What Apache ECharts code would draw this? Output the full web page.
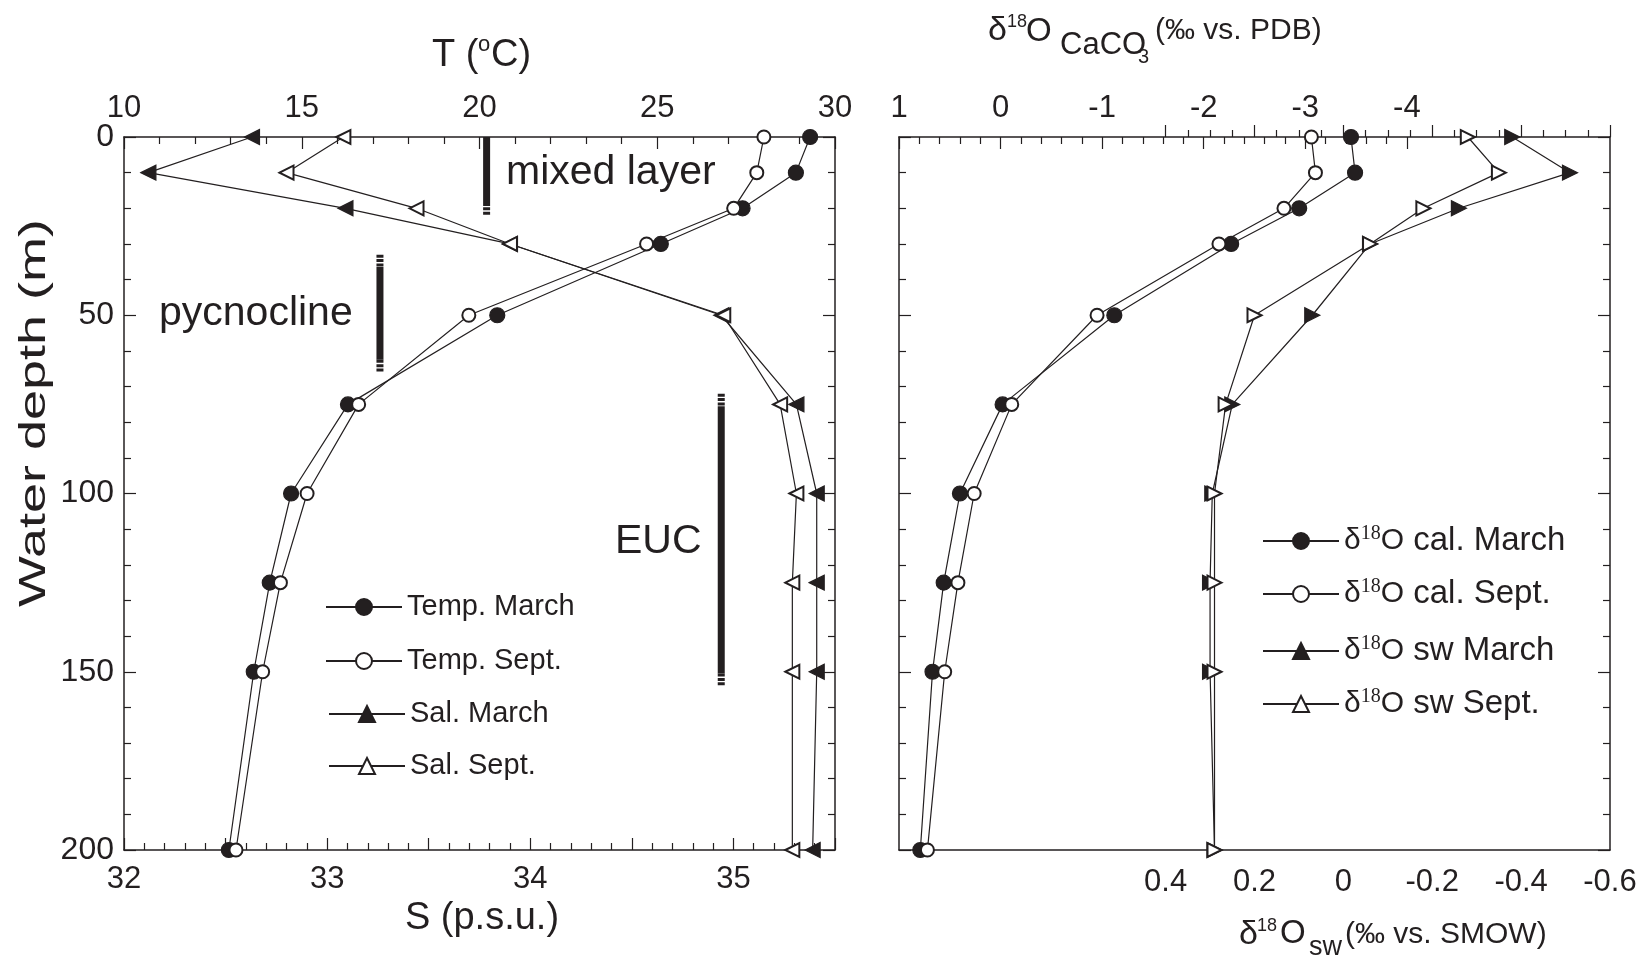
<!DOCTYPE html>
<html><head><meta charset="utf-8">
<script src="https://cdn.jsdelivr.net/npm/echarts@6/dist/echarts.min.js"></script>
<style>html,body{margin:0;padding:0;background:#fff}#c{width:1642px;height:957px}</style>
</head><body><div id="c"></div>
<script>
// ---- data ----
const depths = [0, 10, 20, 30, 50, 75, 100, 125, 150, 200];
const tempMarch = [29.3, 28.9, 27.4, 25.1, 20.5, 16.3, 14.7, 14.1, 13.65, 12.95];
const tempSept  = [28.0, 27.8, 27.15, 24.7, 19.7, 16.6, 15.15, 14.4, 13.9, 13.15];
const salMarch  = [32.63, 32.12, 33.09, 33.9, 34.94, 35.31, 35.41, 35.41, 35.41, 35.39];
const salSept   = [33.08, 32.8, 33.44, 33.9, 34.95, 35.23, 35.31, 35.29, 35.29, 35.29];
const calMarch  = [-3.45, -3.49, -2.94, -2.27, -1.12, -0.02, 0.40, 0.56, 0.67, 0.79];
const calSept   = [-3.06, -3.10, -2.79, -2.15, -0.95, -0.11, 0.26, 0.42, 0.55, 0.72];
const swMarch   = [-0.38, -0.51, -0.26, -0.06, 0.07, 0.25, 0.295, 0.30, 0.30, 0.29];
const swSept    = [-0.28, -0.35, -0.18, -0.06, 0.20, 0.265, 0.29, 0.29, 0.29, 0.29];

const depthLabels = [0, 50, 100, 150, 200];
const sLabels = [32, 33, 34, 35];
const tLabels = [10, 15, 20, 25, 30];
const calLabels = [1, 0, -1, -2, -3, -4];
const swLabels = [0.4, 0.2, 0, -0.2, -0.4, -0.6];

const zoneNames  = ['mixed layer', 'pycnocline', 'EUC'];
const zoneT      = [20.2, 17.2, 26.8];
const zoneTop    = [0, 33, 72];
const zoneBottom = [22, 66, 154];

// ---- layout / style ----
const INK = '#231f20';
const FONT = '"Liberation Sans", Arial, Helvetica, sans-serif';
const SERIF = '"Liberation Serif", "Times New Roman", serif';
const TOP = 137, HEIGHT = 713;
const L = {left: 124, width: 711};
const R = {left: 899, width: 711};
const swMin = -0.6, swMax = 1.0, swTickMax = 0.4;
const calMin = -6, calMax = 1, calTickMin = -4;
const STRIPE = 3.5; // depth span of striped bar ends

function pick(labels) {
  return v => { for (const l of labels) if (Math.abs(v - l) < 1e-6) return String(l); return ''; };
}
function vAxis(extra) {
  return Object.assign({
    type: 'value',
    axisLine: {show: true, onZero: false, lineStyle: {color: INK, width: 1.5}},
    axisTick: {show: true, inside: true, length: 12, lineStyle: {color: INK, width: 1.2}},
    minorTick: {show: true, splitNumber: 5, length: 7, lineStyle: {color: INK, width: 1.2}},
    splitLine: {show: false}, minorSplitLine: {show: false},
    axisLabel: {color: INK, fontFamily: FONT, fontSize: 31, margin: 12}
  }, extra);
}
const pts = xs => xs.map((x, i) => [x, depths[i]]);
const lineStyle = {color: INK, width: 1.2};

const grids = [
  {left: L.left, top: TOP, width: L.width, height: HEIGHT},
  {left: R.left, top: TOP, width: R.width, height: HEIGHT},
  {left: R.left + R.width * (swMax - swTickMax) / (swMax - swMin), top: TOP,
   width: R.width * (swTickMax - swMin) / (swMax - swMin), height: HEIGHT},
  {left: R.left, top: TOP, width: R.width * (calMax - calTickMin) / (calMax - calMin), height: HEIGHT}
];

const xAxis = [
  vAxis({gridIndex: 0, position: 'bottom', min: 32, max: 35.5, interval: 0.5,
         axisLabel: {color: INK, fontFamily: FONT, fontSize: 31, margin: 14, formatter: pick(sLabels)}}),
  vAxis({gridIndex: 0, position: 'top', min: 10, max: 30, interval: 5,
         axisLabel: {color: INK, fontFamily: FONT, fontSize: 31, margin: 13, formatter: pick(tLabels)}}),
  vAxis({gridIndex: 1, position: 'bottom', min: swMin, max: swMax, inverse: true,
         axisTick: {show: false}, minorTick: {show: false}, axisLabel: {show: false}}),
  vAxis({gridIndex: 1, position: 'top', min: calMin, max: calMax, inverse: true,
         axisTick: {show: false}, minorTick: {show: false}, axisLabel: {show: false}}),
  vAxis({gridIndex: 2, position: 'bottom', min: swMin, max: swTickMax, inverse: true, interval: 0.2,
         axisLine: {show: false},
         minorTick: {show: true, splitNumber: 4, length: 7, lineStyle: {color: INK, width: 1.2}},
         axisLabel: {color: INK, fontFamily: FONT, fontSize: 31, margin: 17, formatter: pick(swLabels)}}),
  vAxis({gridIndex: 3, position: 'top', min: calTickMin, max: calMax, inverse: true, interval: 1,
         axisLine: {show: false},
         axisLabel: {color: INK, fontFamily: FONT, fontSize: 31, margin: 13, formatter: pick(calLabels)}})
];
const yBase = {min: 0, max: 200, interval: 50, inverse: true};
const yAxis = [
  vAxis(Object.assign({gridIndex: 0, position: 'left',
        axisLabel: {color: INK, fontFamily: FONT, fontSize: 32, margin: 10, formatter: pick(depthLabels)}}, yBase)),
  vAxis(Object.assign({gridIndex: 0, position: 'right', axisLabel: {show: false}}, yBase)),
  vAxis(Object.assign({gridIndex: 1, position: 'left', axisLabel: {show: false}}, yBase)),
  vAxis(Object.assign({gridIndex: 1, position: 'right', axisLabel: {show: false}}, yBase)),
  Object.assign({type: 'value', gridIndex: 2, show: false}, yBase),
  Object.assign({type: 'value', gridIndex: 3, show: false}, yBase)
];

function ser(name, xs, xi, yi, symbol, size, rot) {
  return {name, type: 'line', xAxisIndex: xi, yAxisIndex: yi, data: pts(xs), clip: false,
    symbol, symbolSize: size, symbolRotate: rot || 0, showAllSymbol: true,
    itemStyle: {color: INK, borderColor: INK, borderWidth: 1.2}, lineStyle,
    emphasis: {disabled: true}, z: 3};
}
const series = [
  ser('Temp. March', tempMarch, 1, 0, 'circle', 15),
  ser('Temp. Sept.', tempSept, 1, 0, 'emptyCircle', 13),
  ser('Sal. March', salMarch, 0, 0, 'triangle', 15, 90),
  ser('Sal. Sept.', salSept, 0, 0, 'emptyTriangle', 14, 90),
  ser('cal. March', calMarch, 3, 2, 'circle', 15),
  ser('cal. Sept.', calSept, 3, 2, 'emptyCircle', 13),
  ser('sw March', swMarch, 2, 2, 'triangle', 15, -90),
  ser('sw Sept.', swSept, 2, 2, 'emptyTriangle', 14, -90)
];
function bar(name, x, y0, y1, dashed) {
  return {name, type: 'line', xAxisIndex: 1, yAxisIndex: 0, symbol: 'none', silent: true,
    data: [[x, y0], [x, y1]], emphasis: {disabled: true},
    lineStyle: {color: INK, width: 7, type: dashed ? [3, 1.4] : 'solid', cap: 'butt'}, z: 2};
}
zoneNames.forEach((n, i) => {
  const topStriped = zoneTop[i] > 0;
  const a = topStriped ? zoneTop[i] + STRIPE : zoneTop[i];
  const b = zoneBottom[i] - STRIPE;
  series.push(bar(n, zoneT[i], a, b, false));
  if (topStriped) series.push(bar(n, zoneT[i], zoneTop[i], a, true));
  series.push(bar(n, zoneT[i], b, zoneBottom[i], true));
});

const dRich = {
  d: {fontFamily: FONT, fontSize: 30, color: INK},
  s: {fontFamily: SERIF, fontSize: 20, color: INK, verticalAlign: 'top'},
  t: {fontFamily: FONT, fontSize: 33, color: INK}
};
function leg(name, left, cy, label, size) {
  return {data: [name], left, top: cy - 17, padding: 0, itemWidth: 76, itemHeight: 20, itemGap: 0,
    symbolRotate: 0, selectedMode: false,
    textStyle: {fontFamily: FONT, fontSize: size || 29, color: INK, lineHeight: 34, rich: dRich},
    formatter: label ? () => label : undefined};
}
const legend = [
  leg('Temp. March', 325, 607), leg('Temp. Sept.', 325, 661),
  leg('Sal. March', 328, 714), leg('Sal. Sept.', 328, 766),
  leg('cal. March', 1262, 541, '{d|δ}{s|18}{d|O}{t| cal. March}'),
  leg('cal. Sept.', 1262, 594, '{d|δ}{s|18}{d|O}{t| cal. Sept.}'),
  leg('sw March', 1262, 651, '{d|δ}{s|18}{d|O}{t| sw March}'),
  leg('sw Sept.', 1262, 704, '{d|δ}{s|18}{d|O}{t| sw Sept.}')
];

function txt(text, x, y, size, opts, extra) {
  return Object.assign({type: 'text', x, y, silent: true,
    style: Object.assign({text, fill: INK, fontFamily: FONT, fontSize: size,
      align: 'left', verticalAlign: 'middle'}, opts || {})}, extra || {});
}
const graphic = [
  // left panel titles
  txt('T (', 432, 56, 38),
  txt('o', 478, 45, 22),
  txt('C)', 491, 56, 38),
  txt('S (p.s.u.)', 482, 919, 38, {align: 'center'}),
  txt('Water depth (m)', 35, 413, 36, {align: 'center'}, {rotation: Math.PI / 2, scaleX: 1.5}),
  // zone annotations
  txt('mixed layer', 506, 173, 41),
  txt('pycnocline', 159, 314, 41),
  txt('EUC', 615, 542, 41),
  // right panel top title
  txt('δ', 988, 31, 34),
  txt('18', 1007, 22, 18),
  txt('O', 1026, 32, 33),
  txt('CaCO', 1060, 45, 31),
  txt('3', 1138, 57, 20),
  txt('(‰ vs. PDB)', 1155, 31, 30),
  // right panel bottom title
  txt('δ', 1239, 935, 34),
  txt('18', 1257, 926, 18),
  txt('O', 1280, 934, 33),
  txt('sw', 1309, 948, 27),
  txt('(‰ vs. SMOW)', 1345, 935, 30)
];

const chart = echarts.init(document.getElementById('c'));
chart.setOption({
  backgroundColor: '#fff',
  animation: false,
  grid: grids, xAxis, yAxis, series, legend, graphic
});
</script></body></html>
